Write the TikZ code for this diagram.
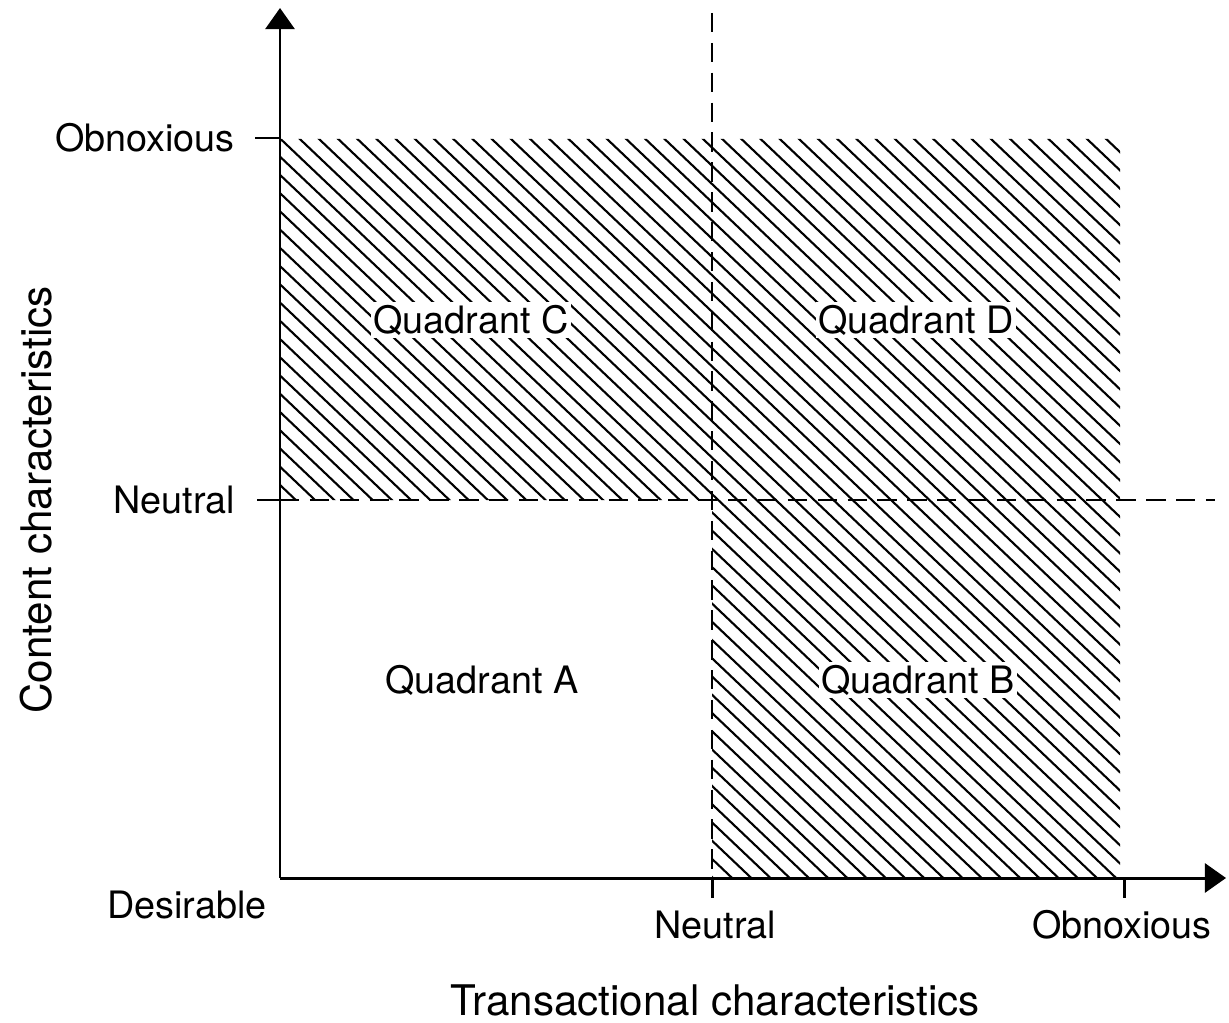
\documentclass[tikz,border=0pt]{standalone}
\usepackage{fontspec}
\setmainfont{TeX Gyre Heros}
\usetikzlibrary{arrows.meta}
\begin{document}
\begin{tikzpicture}[x=0.02cm,y=-0.02cm,
  axis/.style={line width=1.7pt,-{Triangle[length=12pt,width=16.5pt]}},
  tickline/.style={line width=1.7pt},
  dashline/.style={line width=1.4pt,dash pattern=on 11pt off 6pt},
  hatch/.style={line width=1.2pt},
  lab/.style={font=\fontsize{21.5}{24}\selectfont},
  ttl/.style={font=\fontsize{24}{28}\selectfont},
  quad/.style={lab,fill=white,inner sep=1.5pt}]
\useasboundingbox (0,0) rectangle (1229,1023);
% hatching
\begin{scope}
  \clip (280,139) rectangle (1120,500) (712,500) rectangle (1120,878);
  \foreach \k in {-58,...,62}{
    \draw[hatch] ({19.1+19.2*\k},0) -- ({19.1+19.2*\k+1023/0.95},1023);
  }
\end{scope}
% coordinates
\coordinate (o) at (280,878);
\coordinate (ytop) at (280,8);
\coordinate (xend) at (1226,878);
\coordinate (vtop) at (712,13);
\coordinate (vbot) at (712,878);
\coordinate (vtick) at (712,898);
\coordinate (rt) at (1124,878);
\coordinate (rtick) at (1124,898);
\coordinate (ho) at (280,138);
\coordinate (hotick) at (255,138);
\coordinate (hn) at (280,500);
\coordinate (hntick) at (257,500);
\coordinate (hend) at (1215,500);
% dashed lines
\draw[dashline] (vtop) -- (vbot);
\draw[dashline] (hn) -- (hend);
% axes
\draw[axis] (o) -- (ytop);
\draw[axis] (o) -- (xend);
% ticks
\draw[tickline] (vbot) -- (vtick);
\draw[tickline] (rt) -- (rtick);
\draw[tickline] (hotick) -- (ho);
\draw[tickline] (hntick) -- (hn);
% labels
\node[lab,anchor=east] (lobn) at (241,138) {Obnoxious};
\node[lab,anchor=east] (lneu) at (241,500) {Neutral};
\node[lab] (ldes) at (187,905) {Desirable};
\node[lab] (bneu) at (715,925) {Neutral};
\node[lab] (bobn) at (1122,925) {Obnoxious};
\node[ttl] (xt) at (715,1000) {Transactional characteristics};
\node[ttl,rotate=90] (yt) at (36,500) {Content characteristics};
\node[quad] (qc) at (471,320) {Quadrant C};
\node[quad] (qd) at (916,320) {Quadrant D};
\node[lab] (qa) at (482,680) {Quadrant A};
\node[quad] (qb) at (918,680) {Quadrant B};
\end{tikzpicture}
\end{document}
